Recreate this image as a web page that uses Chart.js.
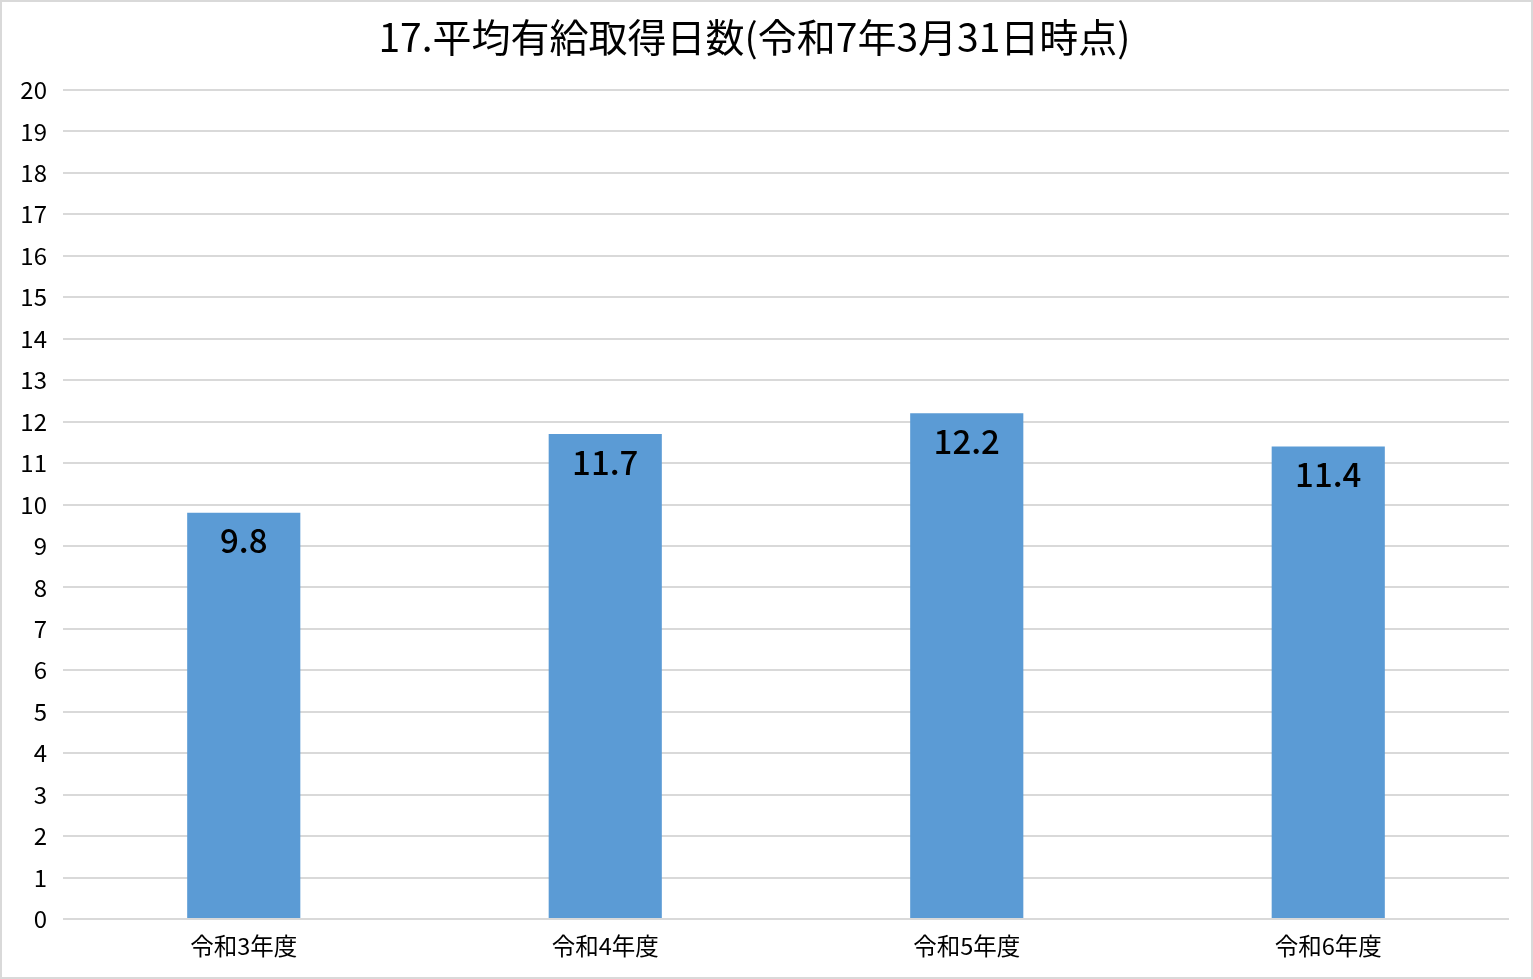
<!DOCTYPE html>
<html>
<head>
<meta charset="utf-8">
<script src="https://cdn.jsdelivr.net/npm/chart.js@4"></script>
<style>
  html, body { margin: 0; padding: 0; background: #fff; }
  #wrap { width: 1533px; height: 979px; position: relative; }
</style>
</head>
<body>
<div id="wrap"><canvas id="chart" width="1533" height="979"></canvas></div>
<script>
"use strict";
const titleText = "17.平均有給取得日数(令和7年3月31日時点)";
const categories = ["令和3年度", "令和4年度", "令和5年度", "令和6年度"];
const values = [9.8, 11.7, 12.2, 11.4];
const yMin = 0;
const yMax = 20;
const yStep = 1;

const FONT = "'Noto Sans CJK JP', 'Noto Sans', sans-serif";

// draws the value inside the top of each bar
const barLabels = {
    id: "barLabels",
    afterDatasetsDraw(chart) {
        const ctx = chart.ctx;
        const meta = chart.getDatasetMeta(0);
        ctx.save();
        ctx.font = "500 33px " + FONT;
        ctx.fillStyle = "#000";
        ctx.textAlign = "center";
        ctx.textBaseline = "middle";
        meta.data.forEach((bar, i) => {
            ctx.fillText(values[i].toFixed(1), bar.x, bar.y + 28);
        });
        ctx.restore();
    }
};

// light gray frame round the whole chart
const frame = {
    id: "frame",
    beforeDraw(chart) {
        const ctx = chart.ctx;
        ctx.save();
        ctx.fillStyle = "#fff";
        ctx.fillRect(0, 0, chart.width, chart.height);
        ctx.strokeStyle = "#d9d9d9";
        ctx.lineWidth = 2;
        ctx.strokeRect(1, 1, chart.width - 2, chart.height - 2);
        ctx.restore();
    }
};

new Chart(document.getElementById("chart"), {
    type: "bar",
    data: {
        labels: categories,
        datasets: [{
            data: values,
            backgroundColor: "#5b9bd5",
            categoryPercentage: 1,
            barPercentage: 0.313
        }]
    },
    options: {
        responsive: false,
        animation: false,
        layout: { padding: { top: 0, right: 24, bottom: 0, left: 0 } },
        plugins: {
            legend: { display: false },
            tooltip: { enabled: false },
            title: {
                display: true,
                text: titleText,
                color: "#000",
                font: { family: FONT, size: 39, weight: "normal", lineHeight: 1.2 },
                padding: { top: 14, bottom: 29.2 }
            }
        },
        scales: {
            x: {
                grid: { display: false, drawTicks: false },
                border: { display: false },
                ticks: { color: "#000", font: { family: FONT, size: 23.5 }, padding: 13 },
                afterFit(scale) { scale.height = 60; }
            },
            y: {
                min: yMin,
                max: yMax,
                grid: { color: "#d9d9d9", lineWidth: 2, drawTicks: false },
                border: { display: false },
                ticks: { stepSize: yStep, color: "#000", font: { family: FONT, size: 24 }, padding: 16 },
                afterFit(scale) { scale.width = 63; }
            }
        }
    },
    plugins: [frame, barLabels]
});
</script>
</body>
</html>
